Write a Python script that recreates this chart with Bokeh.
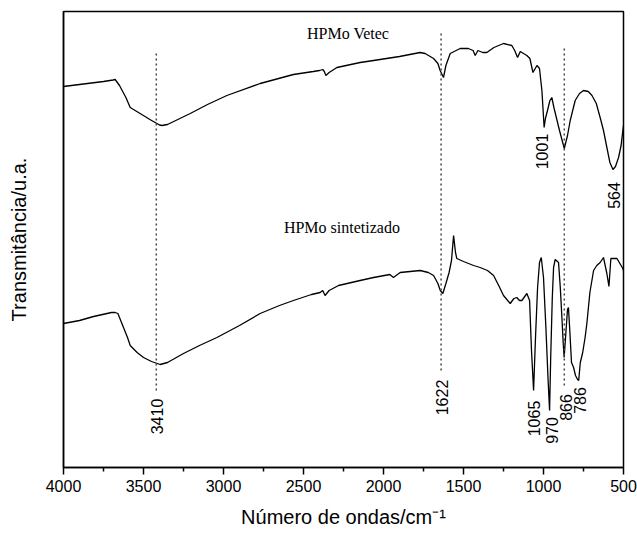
import math
from bokeh.plotting import figure
from bokeh.models import Range1d, FixedTicker, ColumnDataSource
from bokeh.core.properties import value
from bokeh.embed import file_html
from bokeh.resources import INLINE

# HPMo Vetec spectrum (wavenumber, transmittance a.u.)
vetec_wn = [4000, 3850, 3750, 3690, 3677, 3650, 3610, 3583, 3521, 3460, 3400, 3385, 3350,
            3208, 3100, 2979, 2771, 2563, 2439, 2400, 2380, 2370, 2360, 2340, 2291, 2146,
            2062, 1900, 1771, 1740, 1687, 1660, 1646, 1625, 1610, 1583, 1521, 1470, 1440,
            1427, 1410, 1380, 1354, 1310, 1250, 1198, 1180, 1162, 1145, 1125, 1104, 1085,
            1066, 1041, 1025, 1010, 996, 988, 975, 960, 948, 935, 900, 870, 850, 833, 802,
            775, 750, 720, 697, 670, 646, 625, 604, 585, 566, 550, 531, 515, 504, 500]
vetec_t = [381, 384, 386, 387.5, 388, 382, 370, 360, 354, 348, 342.5, 342, 343,
           354, 363, 372, 384, 393, 396, 397, 398, 396, 392, 395, 400, 405,
           407, 411, 415, 414, 409, 404, 397, 390, 402, 414, 419, 419, 417,
           412, 417, 415, 415, 420, 424, 422, 417, 410, 416, 414, 412, 409,
           395, 402, 399, 377, 340, 349, 357, 367, 370, 360, 337, 319, 332, 347, 367,
           374, 377, 376, 372, 364, 350, 337, 320, 305, 298, 301, 310, 322, 337, 342]

# HPMo sintetizado spectrum
sint_wn = [4000, 3900, 3812, 3700, 3677, 3660, 3625, 3600, 3583, 3540, 3500, 3450, 3396,
           3350, 3250, 3150, 3041, 2900, 2771, 2650, 2563, 2450, 2396, 2380, 2365, 2340,
           2281, 2146, 2062, 1960, 1938, 1896, 1771, 1720, 1687, 1660, 1645, 1629, 1610,
           1590, 1575, 1562, 1550, 1542, 1500, 1437, 1396, 1350, 1312, 1280, 1250, 1208,
           1185, 1167, 1150, 1135, 1104, 1087, 1075, 1062, 1050, 1037, 1025, 1014, 1000,
           985, 972, 962, 955, 945, 937, 927, 906, 895, 885, 877, 871, 860, 850, 844, 835,
           825, 812, 800, 787, 780, 770, 755, 740, 729, 710, 687, 667, 646, 625, 604, 591,
           579, 541, 504, 500]
sint_t = [144, 147, 151, 155, 155, 154, 140, 130, 122, 115, 110, 106, 103,
          105, 114, 122, 130, 142, 154, 162, 167, 173, 175, 177, 172, 177,
          182, 187, 190, 193, 190, 195, 197, 195, 192, 184, 177, 174, 184,
          195, 207, 232, 215, 209, 206, 202, 200, 197, 192, 182, 172, 164,
          169, 170, 167, 167, 174, 167, 117, 77, 130, 180, 205, 210, 190,
          140, 90, 57, 110, 170, 200, 208, 205, 180, 150, 125, 110, 135, 158, 160, 135,
          105, 100, 92, 88, 87, 105, 115, 130, 144, 175, 197, 202, 205, 210, 194, 181,
          209, 209, 199, 197]

# dotted marker lines (wavenumber, bottom, top)
mark_wn = [3420, 1640, 870]
mark_bottom = [77, 97, 82]
mark_top = [415, 435, 419]

# peak labels (rotated)
peak_text = ["3410", "1622", "1065", "970", "866", "786", "1001", "564"]
peak_wn = [3416, 1635, 1062, 947, 858, 771, 1012, 560]
peak_y = [51, 70, 49, 37, 60, 67, 316, 272]

# sample names
name_text = ["HPMo Vetec", "HPMo sintetizado"]
name_wn = [2221, 2260]
name_y = [434, 240]

x_ticks = [4000, 3500, 3000, 2500, 2000, 1500, 1000, 500]
x_minor = [3750, 3250, 2750, 2250, 1750, 1250, 750]

p = figure(width=637, height=535, output_backend="svg", toolbar_location=None,
           x_range=Range1d(4000, 500), y_range=Range1d(0, 456),
           min_border_left=63, min_border_right=14, min_border_top=11,
           min_border_bottom=68)
p.background_fill_color = "white"
p.border_fill_color = "white"
p.outline_line_color = "black"
p.outline_line_width = 1.5
p.xgrid.visible = False
p.ygrid.visible = False

p.xaxis.ticker = FixedTicker(ticks=x_ticks, minor_ticks=x_minor)
p.xaxis.major_tick_out = 7
p.xaxis.major_tick_in = 0
p.xaxis.minor_tick_out = 4
p.xaxis.minor_tick_in = 0
p.xaxis.major_tick_line_width = 1.5
p.xaxis.minor_tick_line_width = 1.5
p.xaxis.axis_line_width = 1.5
p.xaxis.major_label_text_font = "Liberation Sans"
p.xaxis.major_label_text_font_size = "16px"
p.xaxis.major_label_text_color = "black"
p.xaxis.major_label_standoff = 5
p.xaxis.axis_label = "Número de ondas/cm⁻¹"
p.xaxis.axis_label_text_font = "Liberation Sans"
p.xaxis.axis_label_text_font_size = "20px"
p.xaxis.axis_label_text_font_style = "normal"
p.xaxis.axis_label_text_color = "black"
p.xaxis.axis_label_standoff = 11

p.yaxis.ticker = FixedTicker(ticks=[])
p.yaxis.major_tick_line_color = None
p.yaxis.minor_tick_line_color = None
p.yaxis.axis_line_width = 1.5
p.yaxis.major_label_text_font_size = "0px"
p.yaxis.axis_label = "Transmitância/u.a."
p.yaxis.axis_label_text_font = "Liberation Sans"
p.yaxis.axis_label_text_font_size = "20px"
p.yaxis.axis_label_text_font_style = "normal"
p.yaxis.axis_label_text_color = "black"
p.yaxis.axis_label_standoff = 34

p.line(vetec_wn, vetec_t, line_color="black", line_width=1.3)
p.line(sint_wn, sint_t, line_color="black", line_width=1.3)

p.segment(x0=mark_wn, y0=mark_bottom, x1=mark_wn, y1=mark_top,
          line_color="#444444", line_width=1.5, line_dash="2 3")

src = ColumnDataSource(dict(x=peak_wn, y=peak_y, t=peak_text))
p.text(x="x", y="y", text="t", source=src, angle=math.pi / 2,
       text_align="center", text_baseline="middle",
       text_font=value("Liberation Sans"), text_font_size="16px", text_color="black")

src2 = ColumnDataSource(dict(x=name_wn, y=name_y, t=name_text))
p.text(x="x", y="y", text="t", source=src2,
       text_align="center", text_baseline="middle",
       text_font=value("Liberation Serif"), text_font_size="16px", text_color="black")

open("out.html", "w").write(file_html(p, INLINE))
